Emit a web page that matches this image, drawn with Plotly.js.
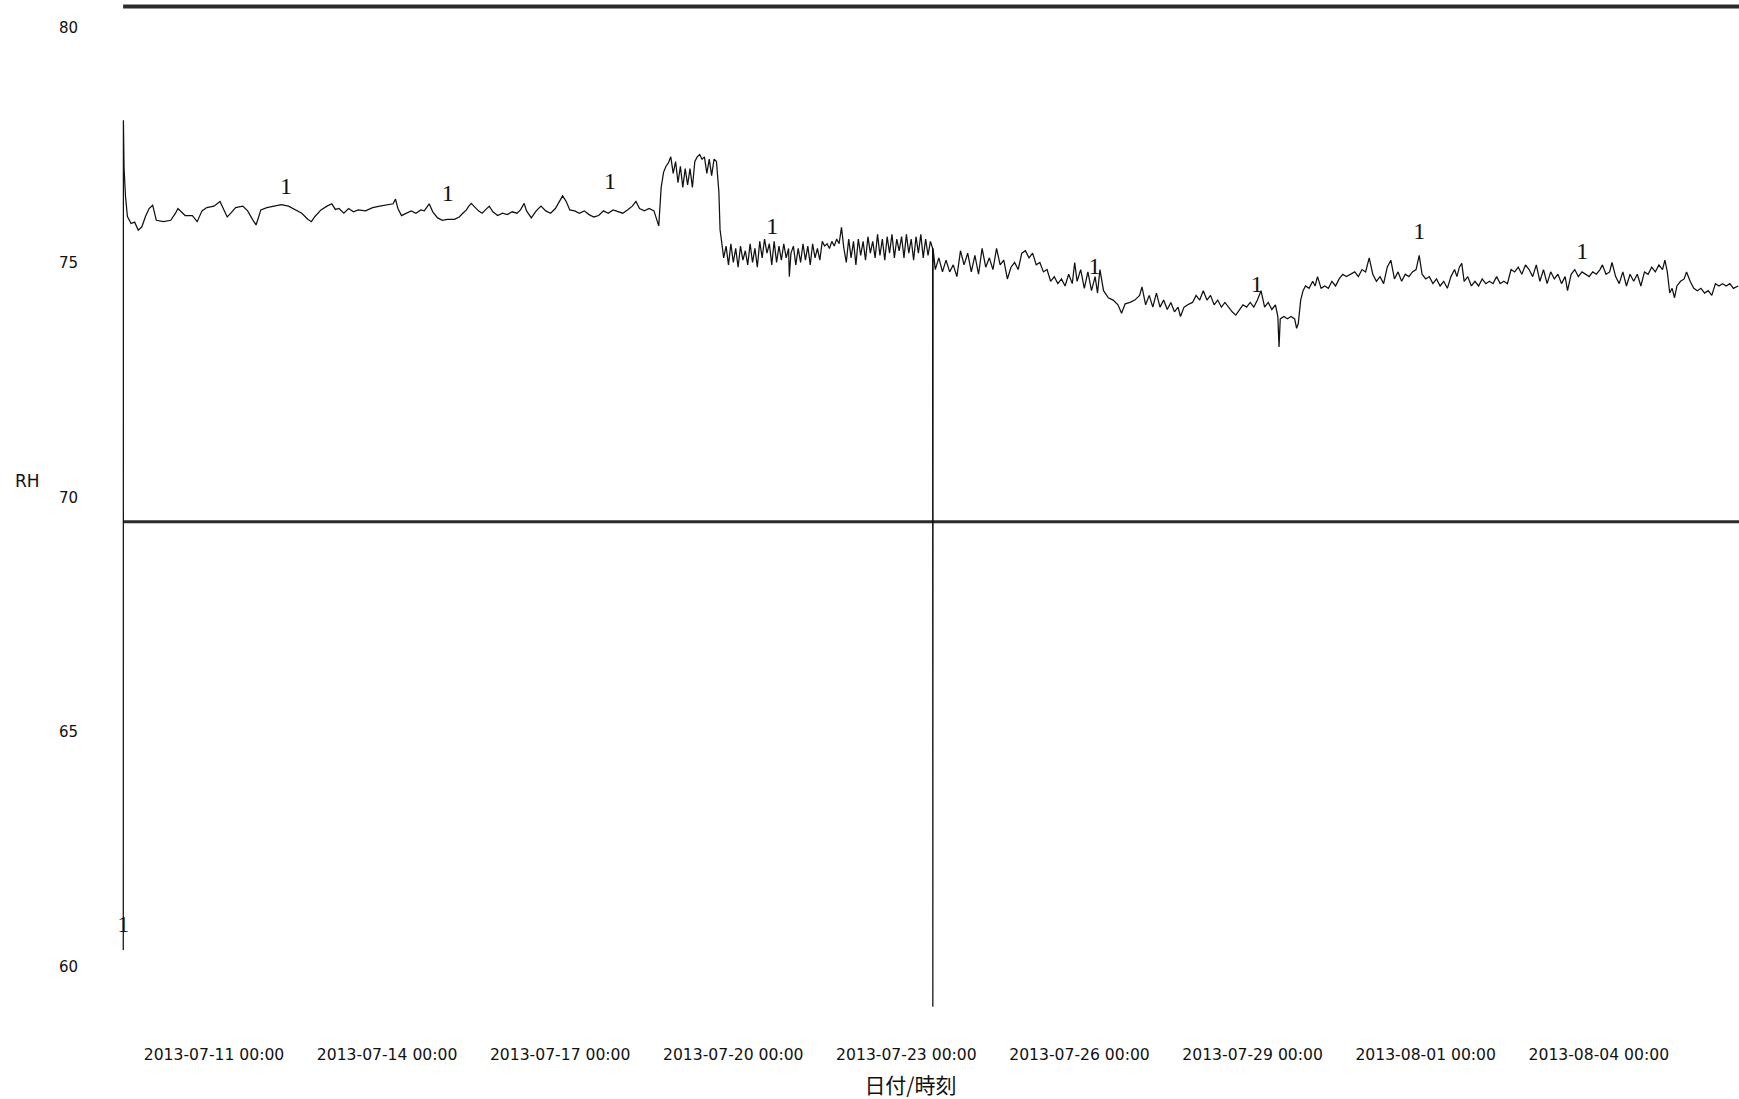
<!DOCTYPE html>
<html>
<head>
<meta charset="utf-8">
<script src="https://cdn.plot.ly/plotly-3.0.1.min.js"></script>
<style>
html,body{margin:0;padding:0;background:#fff;}
#chart{width:1739px;height:1099px;}
</style>
</head>
<body>
<div id="chart"></div>
<script>
// Hours elapsed since 2013-07-09 00:00, and relative humidity (%RH)
const baseDate = '2013-07-09T00:00:00Z';

// Start-up, 07-09 to 07-20 (incl. the high step)
const hoursA = [
10.27,10.32,10.6,11.2,12,13.5,15,16.5,18,19.5,21,22.5,24,27,30,32,33,36,39,41,43,45,48,50.5,52,53.5,55,57,60,62,64,65.5,67.5,70,73,76,79,82,84.5,87,88.5,90,92.5,95,97,98.5,100,102,104,106,108,111,114,117,120,122.5,123.5,124.5,126,128,130,132,134,135.5,137.5,139,141,143,145,148,150,151.5,153,154,155,156.5,158,159.5,161,162.5,164,166,168,170,172,174,175.5,177,178,
180,182,184,186,188,190,191.5,193,194.5,196,198,200,202,204,206,208,210,212,214,216,218,220,222,223.5,225,227,229,231,233,234,235,236,237,238,239,240,241,242,243,244,245,246,247,248,249,250,251,252,253,254,255,256,257,258,258.5,259
];
const rhA = [
60.36,78.03,77.0,76.4,75.98,75.83,75.86,75.69,75.76,75.98,76.15,76.22,75.9,75.87,75.9,76.05,76.15,76.0,76.0,75.87,76.1,76.17,76.2,76.3,76.15,75.97,76.05,76.17,76.2,76.1,75.92,75.8,76.12,76.17,76.2,76.23,76.2,76.12,76.05,75.92,75.87,75.98,76.12,76.2,76.25,76.13,76.15,76.05,76.15,76.08,76.12,76.1,76.17,76.2,76.22,76.25,76.35,76.15,76.0,76.05,76.1,76.05,76.12,76.1,76.25,76.08,75.95,75.9,75.92,75.92,75.97,76.05,76.12,76.2,76.26,76.18,76.1,76.05,76.12,76.2,76.08,76.0,76.05,76.02,76.08,76.05,76.12,76.26,76.1,
75.95,76.1,76.2,76.1,76.05,76.15,76.3,76.42,76.3,76.12,76.1,76.05,76.1,76.02,75.97,76.0,76.1,76.05,76.12,76.08,76.05,76.12,76.2,76.3,76.15,76.1,76.15,76.1,75.78,76.6,76.92,77.05,77.12,77.25,76.9,77.15,76.7,77.05,76.6,77.0,76.65,77.0,76.6,77.15,77.25,77.3,77.2,77.25,76.9,77.2,76.85,77.2,77.15,76.5,75.7,75.5
];

// Noisy band, 07-19 20:00 to 07-23 11:00
const hoursB = [
260,261,262,263,264,265,266,267,268,269, 270,271,272,273,274,275,276,277,278,279,
280,281,282,283,284,285,286,287,287.3,288, 289,290,291,292,293,294,295,296,297,298,
299,300,301,302,303,304,305,306,307,308, 309,310,311,312,313,314,315,316,317,318,
319,320,321,322,323,324,325,326,327,328, 329,330,331,332,333,334,335,336,337,338,
339,340,341,342,343,344,345,346,346.9, 347,347.1
];
const rhB = [
75.1,75.35,74.95,75.4,75.0,75.3,74.9,75.35,75.05,75.25, 74.95,75.4,75.0,75.3,74.9,75.45,75.1,75.5,75.2,75.4,
74.95,75.45,75.0,75.35,75.05,75.4,75.1,75.3,74.7,75.2, 75.35,74.95,75.3,75.0,75.4,75.05,75.35,74.95,75.4,75.1,
75.3,75.05,75.45,75.35,75.4,75.3,75.45,75.35,75.5,75.4, 75.75,75.3,75.0,75.5,75.1,75.45,74.95,75.5,75.15,75.45,
75.05,75.55,75.2,75.45,75.1,75.6,75.15,75.5,75.05,75.55, 75.2,75.6,75.1,75.5,75.25,75.55,75.1,75.6,75.2,75.5,
75.05,75.55,75.2,75.6,75.1,75.5,75.15,75.45,75.3, 59.15,75.3
];

// 07-23 to 08-06
const hoursC = [
348,349.5,351,352.5,354,355.5,357,358.5,360,361.5,363,364.5,366,367.5,369,370.5,372,373.5,375,376.5,378,379.5,381,382.5,384,385.5,387,388.5,390,391.5,393,394.5,396,397.5,399,400.5,402,403.5,405,406,407,408.5,410,411.5,413,414.5,415.5,416.5,418,420,422,424,425.5,427,429,431,433,434,435.5,437,438.5,440,441.5,443,444.5,446,447.5,449,450,451.5,453,455,456.5,458,459.5,461,462.5,464,465.5,467,468.5,470,471.5,473,474.5,476,477.5,479,480.5,482,483.5,485,486.5,488,489.5,490.5,491,491.5,493,494.5,496,497.5,498.3,499,500,501,502,503.5,505,506,507,508.5,510,511.5,513,514.5,516,517.5,519,
521,522.5,524,525.5,527,528.5,530,531.5,533,534.5,536,537.5,539,540.5,542,543.5,545,546.5,548,549.3,550.5,552,553.5,555,556.5,558,559.5,561,562.5,564,565,566,567,568,569.5,571,572.5,574,575.5,577,578.5,580,581.5,583,584.5,586,587.5,589,590.5,592,593.5,595,596.5,598,599.5,601,602.5,604,605.5,607,608.5,610,611,612.5,614,615.5,617,618.5,620,621.5,623,624.5,625.5,627,628.5,629.5,631,632.5,634,635.5,637,638.5,640,641.5,643,644.5,646,647.5,649,650.5,651.5,652.5,653.5,654.5,655.5,656.5,658,659.5,660.5,662,663.5,665,666.5,668,669.5,671,672.5,674,675.5,677,678.5,680,682
];
const rhC = [
74.85,75.1,74.8,75.05,74.8,74.95,74.7,75.25,74.95,75.2,74.8,75.15,74.75,75.3,74.9,75.1,74.85,75.3,74.95,75.05,74.65,74.9,75.0,74.85,75.2,75.25,75.1,75.2,74.95,75.0,74.8,74.85,74.6,74.7,74.55,74.65,74.5,74.75,74.55,75.0,74.6,74.85,74.45,74.8,74.4,74.7,74.35,74.85,74.4,74.25,74.2,74.1,73.92,74.12,74.15,74.2,74.3,74.48,74.1,74.3,74.05,74.35,74.05,74.2,74.0,74.15,73.95,74.05,73.85,74.05,74.1,74.15,74.3,74.2,74.4,74.2,74.3,74.1,74.2,74.05,74.15,74.05,73.95,73.88,74.0,74.1,74.05,74.15,74.05,74.2,74.4,74.05,74.15,74.0,74.1,73.85,73.2,73.8,73.85,73.8,73.85,73.8,73.6,73.7,74.2,74.4,74.5,74.45,74.6,74.5,74.7,74.45,74.5,74.45,74.6,74.5,74.65,74.75,74.7,
74.75,74.8,74.7,74.85,74.8,75.1,74.75,74.6,74.7,74.55,74.9,75.05,74.65,74.8,74.6,74.75,74.7,74.8,74.85,75.15,74.75,74.65,74.7,74.55,74.65,74.5,74.6,74.45,74.7,74.85,74.7,74.9,74.98,74.6,74.7,74.5,74.6,74.5,74.65,74.55,74.6,74.55,74.7,74.55,74.6,74.55,74.85,74.8,74.9,74.75,74.95,74.85,74.7,74.95,74.6,74.85,74.55,74.8,74.65,74.75,74.55,74.7,74.4,74.75,74.85,74.7,74.8,74.75,74.7,74.8,74.75,74.85,74.95,74.75,74.8,75.0,74.7,74.55,74.8,74.5,74.75,74.6,74.75,74.5,74.8,74.75,74.9,74.8,74.95,74.85,75.05,74.8,74.35,74.45,74.25,74.5,74.6,74.65,74.8,74.6,74.45,74.4,74.45,74.35,74.4,74.3,74.55,74.5,74.55,74.5,74.55,74.45,74.5
];

// "1" series markers printed on the trace
const markerHours = [10.27, 77.95, 145.2, 212.7, 280.2, 414.2, 481.7, 549.3, 617.1];
const markerRh = [60.87, 76.58, 76.44, 76.69, 75.73, 74.88, 74.50, 75.63, 75.21];
const markerText = ['1','1','1','1','1','1','1','1','1'];

// Reference (limit) lines
const upperLimit = 80.45;
const lowerLimit = 69.48;
const limitHours = [10.2, 700];

// Axis settings
const yTicks = [60, 65, 70, 75, 80];
const xRange = ['2013-07-08 17:06', '2013-08-06 10:19'];
const yRange = [58.87, 80.59];
const xTitle = '日付/時刻';
const yTitle = 'RH';

const base = Date.parse(baseDate);
function toDate(h) {
  return new Date(base + h * 3600000).toISOString().slice(0, 19).replace('T', ' ');
}
const hours = hoursA.concat(hoursB, hoursC);
const rh = rhA.concat(rhB, rhC);
const x = hours.map(toDate);
const limX = limitHours.map(toDate);

const traces = [
  {x: limX, y: [upperLimit, upperLimit], type: 'scatter', mode: 'lines',
   line: {color: '#2b2b2b', width: 4}, hoverinfo: 'skip', showlegend: false},
  {x: limX, y: [lowerLimit, lowerLimit], type: 'scatter', mode: 'lines',
   line: {color: '#2b2b2b', width: 3}, hoverinfo: 'skip', showlegend: false},
  {x: x, y: rh, type: 'scatter', mode: 'lines', name: 'RH',
   line: {color: '#111', width: 1.25}, showlegend: false},
  {x: markerHours.map(toDate), y: markerRh, type: 'scatter', mode: 'text',
   text: markerText, textposition: 'middle center',
   textfont: {family: 'Liberation Serif, serif', size: 24, color: '#111'},
   hoverinfo: 'skip', showlegend: false}
];

const layout = {
  width: 1739, height: 1099,
  margin: {l: 82, r: 0, t: 0, b: 79},
  paper_bgcolor: '#fff', plot_bgcolor: '#fff',
  showlegend: false,
  xaxis: {
    type: 'date', range: xRange, autorange: false,
    showgrid: false, zeroline: false, showline: false, ticks: '',
    tickmode: 'linear', tick0: '2013-07-11', dtick: 3 * 86400000,
    tickformat: '%Y-%m-%d %H:%M',
    tickfont: {family: 'DejaVu Sans, Verdana, sans-serif', size: 15.6, color: '#111'},
    ticklabelstandoff: 23,
    automargin: false,
    title: {text: xTitle, standoff: 17,
            font: {family: 'Noto Sans CJK JP, sans-serif', size: 21, color: '#111'}}
  },
  yaxis: {
    range: yRange, autorange: false,
    showgrid: false, zeroline: false, showline: false, ticks: '',
    tickmode: 'array', tickvals: yTicks,
    tickfont: {family: 'DejaVu Sans, Verdana, sans-serif', size: 15, color: '#111'},
    ticklabelstandoff: 3,
    automargin: false
  },
  annotations: [
    {text: yTitle, xref: 'paper', yref: 'y', x: -0.0326, y: 70.35,
     xanchor: 'center', yanchor: 'middle', showarrow: false,
     font: {family: 'DejaVu Sans, sans-serif', size: 17, color: '#111'}}
  ]
};

Plotly.newPlot('chart', traces, layout, {displayModeBar: false, staticPlot: true});
</script>
</body>
</html>
